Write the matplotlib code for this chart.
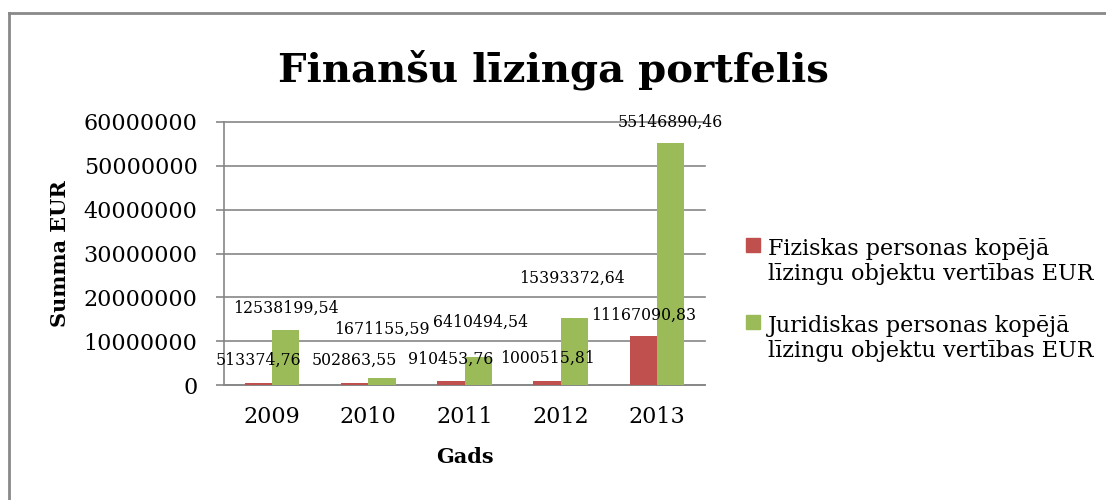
import numpy as np
import matplotlib.pyplot as plt
from matplotlib.lines import Line2D
from matplotlib.patches import Rectangle

# dati
gadi = ['2009', '2010', '2011', '2012', '2013']
fiziskas = [513374.76, 502863.55, 910453.76, 1000515.81, 11167090.83]
juridiskas = [12538199.54, 1671155.59, 6410494.54, 15393372.64, 55146890.46]
fiz_labels = ['513374,76', '502863,55', '910453,76', '1000515,81', '11167090,83']
jur_labels = ['12538199,54', '1671155,59', '6410494,54', '15393372,64', '55146890,46']
y_ticks = [0, 10000000, 20000000, 30000000, 40000000, 50000000, 60000000]

legend_names = ['Fiziskas personas kopējā\nlīzingu objektu vertības EUR',
                'Juridiskas personas kopējā\nlīzingu objektu vertības EUR']

# etiķešu nobīdes (pikseļos) virs stabiņa
fiz_off = [(0, 22), (0, 22), (0, 22), (0, 22), (0, 21)]
jur_off = [(0, 22), (0, 48), (2, 35), (-3, 39), (0, 21)]

RED = '#C0504D'
GREEN = '#9BBB59'
GRID = '#868686'

plt.rcParams['font.family'] = ['DejaVu Serif']

fig = plt.figure(figsize=(11.06, 5.0), dpi=100)
ax = fig.add_axes([0.2025, 0.23, 0.435, 0.526])

x = np.arange(len(gadi))
w = 0.285
b1 = ax.bar(x - w / 2, fiziskas, w, color=RED, zorder=3)
b2 = ax.bar(x + w / 2, juridiskas, w, color=GREEN, zorder=3)

for bars, labs, offs in [(b1, fiz_labels, fiz_off), (b2, jur_labels, jur_off)]:
    for rect, lab, off in zip(bars, labs, offs):
        ax.annotate(lab, (rect.get_x() + rect.get_width() / 2, rect.get_height()),
                    xytext=off, textcoords='offset pixels', ha='center', va='center',
                    fontsize=11.3, zorder=5, annotation_clip=False)

ax.set_xlim(-0.5, len(gadi) - 0.5)
ax.set_ylim(0, 60000000)
ax.set_yticks(y_ticks)
ax.set_yticklabels([str(v) for v in y_ticks], fontsize=16)
ax.set_xticks(x)
ax.set_xticklabels(gadi, fontsize=16)
ax.tick_params(axis='x', length=0, pad=15)
ax.tick_params(axis='y', length=6, color=GRID, width=1.2, pad=13)

ax.yaxis.grid(True, color=GRID, linewidth=1.2, zorder=0)
for gl in ax.get_ygridlines():
    gl.set_clip_on(False)
for s in ['top', 'right']:
    ax.spines[s].set_visible(False)
for s in ['left', 'bottom']:
    ax.spines[s].set_color(GRID)
    ax.spines[s].set_linewidth(1.2)

ax.set_xlabel('Gads', fontsize=15, fontweight='bold', labelpad=14)
ax.set_ylabel('Summa EUR', fontsize=15, fontweight='bold', labelpad=10)

fig.text(0.5, 0.86, 'Finanšu līzinga portfelis', ha='center', va='center',
         fontsize=29, fontweight='bold')

# leģenda (kvadrāts pie pirmās rindas)
leg_colors = [RED, GREEN]
leg_text_y = [261.5, 338.5]
leg_box_y = [245, 322]
for name, col, ty, by in zip(legend_names, leg_colors, leg_text_y, leg_box_y):
    fig.text(768 / 1106, 1 - ty / 500, name, ha='left', va='center',
             fontsize=16, linespacing=1.2)
    fig.add_artist(Rectangle((746 / 1106, 1 - (by + 7) / 500), 14 / 1106, 14 / 500,
                             transform=fig.transFigure, color=col))

# rāmis (augša un kreisā mala)
fig.add_artist(Line2D([9 / 1106, 1.0], [1 - 13 / 500, 1 - 13 / 500],
                      transform=fig.transFigure, color='#898989', linewidth=2))
fig.add_artist(Line2D([9 / 1106, 9 / 1106], [0.0, 1 - 13 / 500],
                      transform=fig.transFigure, color='#898989', linewidth=2))

fig.savefig('out.png', dpi=100)
